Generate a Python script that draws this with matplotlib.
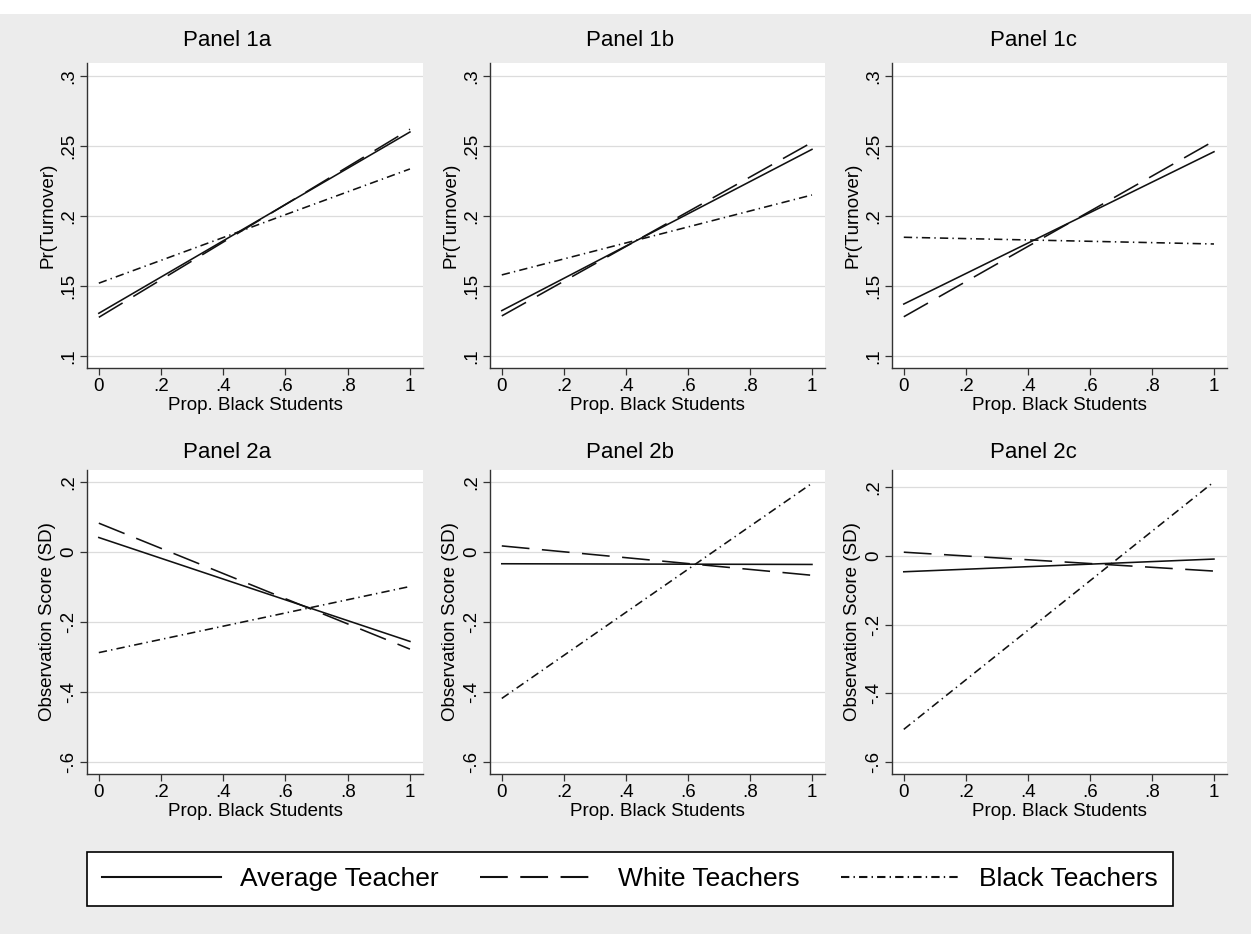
import matplotlib
matplotlib.use("Agg")
import matplotlib.pyplot as plt
from matplotlib.patches import Rectangle
from matplotlib.lines import Line2D

plt.rcParams['font.family'] = ['Liberation Sans', 'DejaVu Sans']
plt.rcParams['lines.scale_dashes'] = False

# ---------------- data ----------------
x_vals = [0, 1]
panel_titles = ["Panel 1a", "Panel 1b", "Panel 1c", "Panel 2a", "Panel 2b", "Panel 2c"]
series_names = ["Average Teacher", "White Teachers", "Black Teachers"]

avg_1a = [0.1305, 0.2600]
white_1a = [0.1276, 0.2620]
black_1a = [0.1520, 0.2336]

avg_1b = [0.1324, 0.2476]
white_1b = [0.1286, 0.2526]
black_1b = [0.1579, 0.2150]

avg_1c = [0.1371, 0.2459]
white_1c = [0.1280, 0.2536]
black_1c = [0.1848, 0.1800]

avg_2a = [0.042, -0.255]
white_2a = [0.083, -0.277]
black_2a = [-0.287, -0.098]

avg_2b = [-0.033, -0.035]
white_2b = [0.018, -0.066]
black_2b = [-0.418, 0.197]

avg_2c = [-0.046, -0.009]
white_2c = [0.011, -0.044]
black_2c = [-0.505, 0.216]

x_ticks = [0, 0.2, 0.4, 0.6, 0.8, 1]
x_ticklabels = ["0", ".2", ".4", ".6", ".8", "1"]
y_ticks_top = [0.1, 0.15, 0.2, 0.25, 0.3]
y_ticklabels_top = [".1", ".15", ".2", ".25", ".3"]
y_ticks_bot = [-0.6, -0.4, -0.2, 0, 0.2]
y_ticklabels_bot = ["-.6", "-.4", "-.2", "0", ".2"]

x_label = "Prop. Black Students"
y_label_top = "Pr(Turnover)"
y_label_bot = "Observation Score (SD)"

panel_data = [
    (avg_1a, white_1a, black_1a),
    (avg_1b, white_1b, black_1b),
    (avg_1c, white_1c, black_1c),
    (avg_2a, white_2a, black_2a),
    (avg_2b, white_2b, black_2b),
    (avg_2c, white_2c, black_2c),
]

# ---------------- styling ----------------
W, H = 1251, 934
BG = '#ECECEC'
LINE_C = '#111111'
styles = [
    dict(linestyle='-'),
    dict(linestyle=(0, (20, 9))),
    dict(linestyle=(0, (6, 3, 1, 3))),
]
LW = 1.15

fig = plt.figure(figsize=(W / 100, H / 100), dpi=100, facecolor=BG)

# white strip at top
fig.patches.append(Rectangle((0, 1 - 14 / H), 1, 14 / H, transform=fig.transFigure,
                             facecolor='white', edgecolor='none', zorder=0))

def px_rect(x0, x1, y0, y1):
    return [x0 / W, 1 - y1 / H, (x1 - x0) / W, (y1 - y0) / H]

col_x = [(87, 423), (490, 825), (892, 1227)]
row_y = [(63, 368), (470, 774)]
title_cx = [227, 630, 1033]
title_cy = [40, 453]

ylims = [(0.0914, 0.3093)] * 3 + [(-0.634, 0.235), (-0.634, 0.235), (-0.635, 0.2504)]

for i in range(6):
    r, c = divmod(i, 3)
    ax = fig.add_axes(px_rect(col_x[c][0], col_x[c][1], row_y[r][0], row_y[r][1]))
    ax.set_facecolor('white')
    avg, white, black = panel_data[i]
    for vals, st in zip((avg, white, black), styles):
        ax.plot(x_vals, vals, color=LINE_C, linewidth=LW, **st)
    ax.set_xlim(-0.038, 1.042)
    ax.set_ylim(*ylims[i])
    ax.set_xticks(x_ticks)
    ax.set_xticklabels(x_ticklabels)
    if r == 0:
        ax.set_yticks(y_ticks_top)
        ax.set_yticklabels(y_ticklabels_top)
        ax.set_ylabel(y_label_top, fontsize=13.5, labelpad=3)
    else:
        ax.set_yticks(y_ticks_bot)
        ax.set_yticklabels(y_ticklabels_bot)
        ax.set_ylabel(y_label_bot, fontsize=13.5, labelpad=3)
    ax.set_xlabel(x_label, fontsize=13.5, labelpad=2)
    ax.grid(axis='y', color='#DCDCDC', linewidth=0.9)
    ax.set_axisbelow(True)
    for s in ('top', 'right'):
        ax.spines[s].set_visible(False)
    for s in ('left', 'bottom'):
        ax.spines[s].set_color('#333333')
        ax.spines[s].set_linewidth(1.0)
    ax.tick_params(axis='both', length=5, width=0.9, color='#333333',
                   labelsize=13.5, pad=2)
    ax.tick_params(axis='y', labelrotation=90)
    for lab in ax.get_yticklabels():
        lab.set_va('center')
    fig.text(title_cx[c] / W, 1 - title_cy[r] / H, panel_titles[i],
             ha='center', va='center', fontsize=16)

# ---------------- legend ----------------
handles = [Line2D([0], [0], color=LINE_C, linewidth=LW * 1.3, **st) for st in styles]
leg = fig.legend(handles, series_names, ncol=3, loc='center',
                 bbox_to_anchor=(630 / W, 1 - 879 / H), fontsize=19,
                 frameon=True, fancybox=False, shadow=False,
                 handlelength=4.5, handletextpad=0.75, columnspacing=1.55,
                 borderpad=0.55, edgecolor='black', facecolor='white', framealpha=1)
leg.get_frame().set_linewidth(1.2)

fig.savefig('out.png', dpi=100, facecolor=BG)
